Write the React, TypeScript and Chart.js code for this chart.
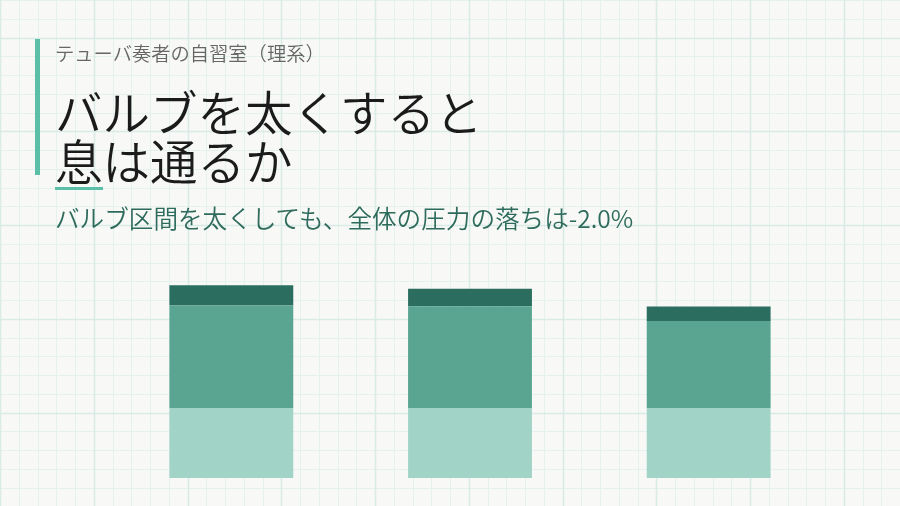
import React, { useEffect, useRef } from "react";
import { Chart, registerables } from "chart.js";

Chart.register(...registerables);

const categories = ["A", "B", "C"];
const lowerValues = [35, 35, 35];
const middleValues = [51.2, 50.9, 43.5];
const upperValues = [10.2, 8.7, 7.2];

const labelText = "テューバ奏者の自習室（理系）";
const titleLine1 = "バルブを太くすると";
const titleLine2 = "息は通るか";
const subtitleText = "バルブ区間を太くしても、全体の圧力の落ちは-2.0%";

const W = 900;
const H = 506;
const FONT = '"Noto Sans CJK JP", "Noto Sans", sans-serif';

const gridPlugin = {
  id: "paperGrid",
  beforeDraw(chart: any) {
    const ctx = chart.ctx;
    const w = chart.width;
    const h = chart.height;
    ctx.save();
    ctx.fillStyle = "#f8f9f7";
    ctx.fillRect(0, 0, w, h);
    const minor = 18.75;
    ctx.strokeStyle = "#e4f1ed";
    ctx.lineWidth = 1;
    ctx.beginPath();
    for (let x = 0; x <= w; x += minor) {
      const px = Math.round(x) + 0.5;
      ctx.moveTo(px, 0);
      ctx.lineTo(px, h);
    }
    for (let y = 0; y <= h; y += minor) {
      const py = Math.round(y) + 0.5;
      ctx.moveTo(0, py);
      ctx.lineTo(w, py);
    }
    ctx.stroke();
    ctx.strokeStyle = "#d8ebe5";
    ctx.lineWidth = 1.5;
    ctx.beginPath();
    for (let x = 0; x <= w; x += minor * 5) {
      const px = Math.round(x) + 0.5;
      ctx.moveTo(px, 0);
      ctx.lineTo(px, h);
    }
    for (let y = 37.5; y <= h; y += minor * 5) {
      const py = Math.round(y) + 0.5;
      ctx.moveTo(0, py);
      ctx.lineTo(w, py);
    }
    ctx.stroke();
    ctx.restore();
  },
};

export default function App() {
  const ref = useRef<HTMLCanvasElement | null>(null);

  useEffect(() => {
    document.body.style.margin = "0";
    const canvas = ref.current;
    if (!canvas) return;
    const chart = new Chart(canvas, {
      type: "bar",
      data: {
        labels: categories,
        datasets: [
          { label: "lower", data: lowerValues, backgroundColor: "#a1d4c6" },
          { label: "middle", data: middleValues, backgroundColor: "#5aa591" },
          { label: "upper", data: upperValues, backgroundColor: "#2b6e60" },
        ],
      },
      options: {
        animation: false,
        responsive: false,
        devicePixelRatio: 1,
        layout: { padding: { left: 112, right: 72, top: 238, bottom: 28 } },
        datasets: {
          bar: { categoryPercentage: 1, barPercentage: 0.519, borderWidth: 0 },
        },
        scales: {
          x: { stacked: true, display: false },
          y: { stacked: true, display: false, min: 0, max: 120 },
        },
        plugins: {
          legend: { display: false },
          tooltip: { enabled: false },
          title: { display: false },
        },
      },
      plugins: [gridPlugin],
    });
    return () => chart.destroy();
  }, []);

  return (
    <div style={{ position: "fixed", left: 0, top: 0, width: W, height: H, overflow: "hidden", fontFamily: FONT }}>
      <canvas ref={ref} width={W} height={H} style={{ position: "absolute", left: 0, top: 0, width: W, height: H }} />
      <div style={{ position: "absolute", left: 35, top: 39, width: 4.5, height: 136, background: "#5bbfa7" }} />
      <div style={{ position: "absolute", left: 55, top: 44, fontSize: 19.3, lineHeight: "19px", fontWeight: 350, color: "#666666", whiteSpace: "nowrap" }}>
        {labelText}
      </div>
      <div style={{ position: "absolute", left: 55, top: 86, fontSize: 47.5, lineHeight: "49px", fontWeight: 350, color: "#1b1b1b", whiteSpace: "nowrap" }}>
        <div>{titleLine1}</div>
        <div>{titleLine2}</div>
      </div>
      <div style={{ position: "absolute", left: 55, top: 187, width: 48, height: 2.5, background: "#5bbfa7" }} />
      <div style={{ position: "absolute", left: 55, top: 205, fontSize: 24.6, lineHeight: "25px", fontWeight: 350, color: "#2e6b5c", whiteSpace: "nowrap" }}>
        {subtitleText}
      </div>
    </div>
  );
}
